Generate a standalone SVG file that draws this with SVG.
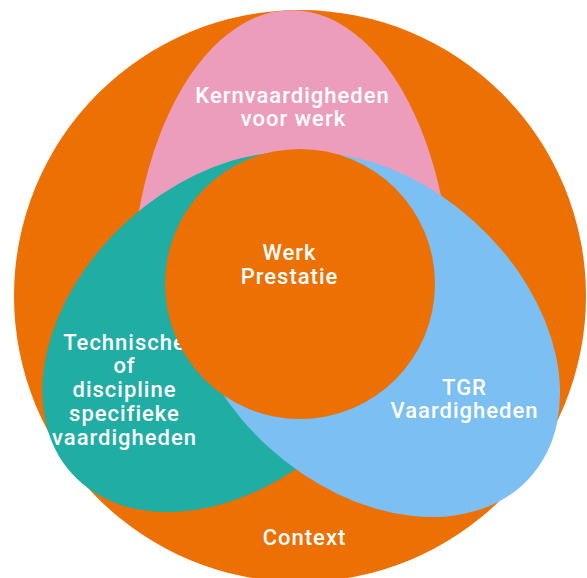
<svg xmlns="http://www.w3.org/2000/svg" width="587" height="578" viewBox="0 0 587 578">
  <style>
    .lbl { font-family: Roboto, "Liberation Sans", sans-serif; font-size: 22px; font-weight: 500; letter-spacing: 1px; fill: #ffffff; text-anchor: middle; }
    .orange { fill: #EC7004; }
    .pink { fill: #ED9DBC; }
    .teal { fill: #20ADA4; }
    .blue { fill: #7CBFF3; }
  </style>
  <rect width="587" height="578" fill="#ffffff"/>
  <g id="context">
    <circle class="orange" cx="300" cy="296" r="286"/>
    <text class="lbl" x="304.5" y="545">Context</text>
  </g>
  <g id="kernvaardigheden">
    <path class="pink" d="M137.2,380 A160.4,290.5 0 1 1 445.8,380 Z"/>
    <text class="lbl" x="292.5" y="102.5">Kernvaardigheden</text>
    <text class="lbl" x="293.5" y="126">voor werk</text>
  </g>
  <g id="technische">
    <ellipse class="teal" cx="0" cy="0" rx="211" ry="150" transform="translate(228.3,332) rotate(-42.15)"/>
    <text class="lbl" x="124.5" y="349.5">Technische</text>
    <text class="lbl" x="124.5" y="373">of</text>
    <text class="lbl" x="124.5" y="397">discipline</text>
    <text class="lbl" x="124.5" y="421">specifieke</text>
    <text class="lbl" x="124.5" y="445">vaardigheden</text>
  </g>
  <g id="tgr">
    <ellipse class="blue" cx="0" cy="0" rx="213.2" ry="152.7" transform="translate(371.7,334.6) rotate(42.15)"/>
    <text class="lbl" x="464.5" y="394.5">TGR</text>
    <text class="lbl" x="464.5" y="418">Vaardigheden</text>
  </g>
  <g id="werkprestatie">
    <circle class="orange" cx="300" cy="284" r="135"/>
    <text class="lbl" x="289.5" y="259.5">Werk</text>
    <text class="lbl" x="289.5" y="283.5">Prestatie</text>
  </g>
</svg>
